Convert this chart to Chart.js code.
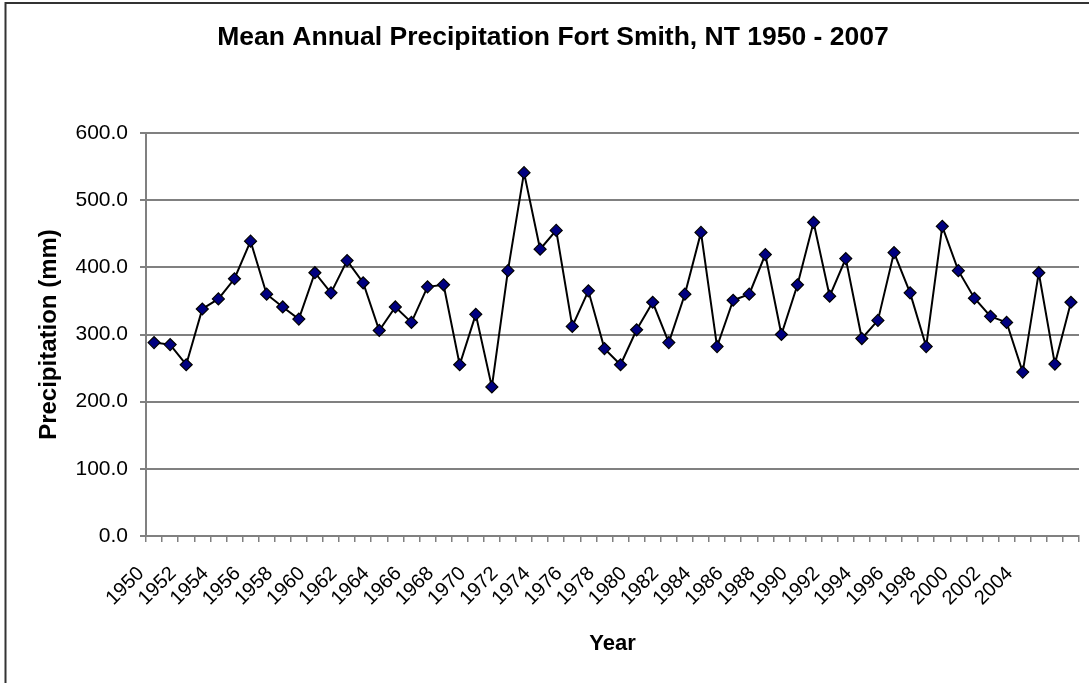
<!DOCTYPE html>
<html>
<head>
<meta charset="utf-8">
<title>Mean Annual Precipitation Fort Smith, NT 1950 - 2007</title>
<script src="https://cdn.jsdelivr.net/npm/chart.js@4.4.0/dist/chart.umd.min.js"></script>
<style>
    html, body { margin: 0; padding: 0; background: #fff; }
    #wrap { width: 1089px; height: 683px; position: relative; }
</style>
</head>
<body>
<div id="wrap"><canvas id="chartPrecip" width="1089" height="683"></canvas></div>
<script>
// Dados
const years = [1950, 1951, 1952, 1953, 1954, 1955, 1956, 1957, 1958, 1959,
    1960, 1961, 1962, 1963, 1964, 1965, 1966, 1967, 1968, 1969,
    1970, 1971, 1972, 1973, 1974, 1975, 1976, 1977, 1978, 1979,
    1980, 1981, 1982, 1983, 1984, 1985, 1986, 1987, 1988, 1989,
    1990, 1991, 1992, 1993, 1994, 1995, 1996, 1997, 1998, 1999,
    2000, 2001, 2002, 2003, 2004, 2005, 2006, 2007];
const precipitation = [288, 285, 255, 338, 353, 383, 439, 360, 341, 323,
    392, 362, 410, 377, 306, 341, 318, 371, 374, 255,
    330, 222, 395, 541, 427, 455, 312, 365, 279, 255,
    307, 348, 288, 360, 452, 282, 351, 360, 419, 300,
    374, 467, 357, 413, 294, 321, 422, 362, 282, 461,
    395, 354, 327, 318, 244, 392, 256, 348];
// rótulos visíveis no eixo X (a cada 2 anos, até 2004)
const yearTicks = [1950, 1952, 1954, 1956, 1958, 1960, 1962, 1964, 1966, 1968,
    1970, 1972, 1974, 1976, 1978, 1980, 1982, 1984, 1986, 1988,
    1990, 1992, 1994, 1996, 1998, 2000, 2002, 2004];
const yTicks = [0, 100, 200, 300, 400, 500, 600];

const FONT = "'Liberation Sans', Arial, sans-serif";
const GRID = '#808080';

// moldura da área do gráfico (estilo Excel)
const frame = {
    id: 'frame',
    beforeDraw(chart) {
        const c = chart.ctx;
        c.save();
        c.fillStyle = '#fff';
        c.fillRect(0, 0, chart.width, chart.height);
        c.strokeStyle = '#333';
        c.lineWidth = 2;
        c.strokeRect(5.5, 3, chart.width + 20, chart.height + 20);
        c.restore();
    }
};

Chart.defaults.color = '#000';
Chart.defaults.font.family = FONT;

new Chart(document.getElementById('chartPrecip').getContext('2d'), {
    type: 'line',
    data: {
        labels: years,
        datasets: [{
            label: 'Precipitation (mm)',
            data: precipitation,
            borderColor: '#000',
            borderWidth: 2,
            tension: 0,
            pointStyle: 'rectRot',
            pointRadius: 6,
            pointHoverRadius: 6,
            pointBackgroundColor: '#000080',
            pointBorderColor: '#000',
            pointBorderWidth: 1.2
        }]
    },
    options: {
        responsive: false,
        animation: false,
        layout: { padding: { left: 27, right: 10, top: 0, bottom: 0 } },
        plugins: {
            legend: { display: false },
            tooltip: { enabled: false },
            title: {
                display: true,
                text: 'Mean Annual Precipitation Fort Smith, NT 1950 - 2007',
                font: { size: 26.5, weight: 'bold', family: FONT },
                color: '#000',
                padding: { top: 22, bottom: 79.2 }
            }
        },
        scales: {
            x: {
                type: 'category',
                offset: true,
                grid: {
                    display: true,
                    offset: true,
                    drawOnChartArea: false,
                    drawTicks: true,
                    tickLength: 6,
                    lineWidth: 1.5,
                    color: GRID
                },
                border: { display: true, color: GRID, width: 2 },
                ticks: {
                    autoSkip: false,
                    maxRotation: 45,
                    minRotation: 45,
                    padding: 20,
                    labelOffset: -13,
                    font: { size: 20, family: FONT },
                    callback: function(v, i) {
                        return yearTicks.includes(years[i]) ? String(years[i]) : '';
                    }
                },
                title: {
                    display: true,
                    text: 'Year',
                    font: { size: 22, weight: 'bold', family: FONT },
                    padding: { top: 0, bottom: 26 }
                },
                afterFit(scale) {
                    scale.height = 147;
                    // sem folga extra à direita/esquerda para os rótulos girados
                    scale.paddingLeft = 0;
                    scale.paddingRight = 0;
                }
            },
            y: {
                min: 0,
                max: 600,
                grid: { color: GRID, lineWidth: 2, tickLength: 6 },
                border: { display: true, color: GRID, width: 2 },
                afterBuildTicks(scale) { scale.ticks = yTicks.map(v => ({ value: v })); },
                ticks: {
                    padding: 12,
                    font: { size: 21, family: FONT },
                    callback: v => Number(v).toFixed(1)
                },
                title: {
                    display: true,
                    text: 'Precipitation (mm)',
                    font: { size: 24, weight: 'bold', family: FONT },
                    padding: { top: 8, bottom: 0 }
                },
                afterFit(scale) { scale.width = 119; }
            }
        }
    },
    plugins: [frame]
});
</script>
</body>
</html>
